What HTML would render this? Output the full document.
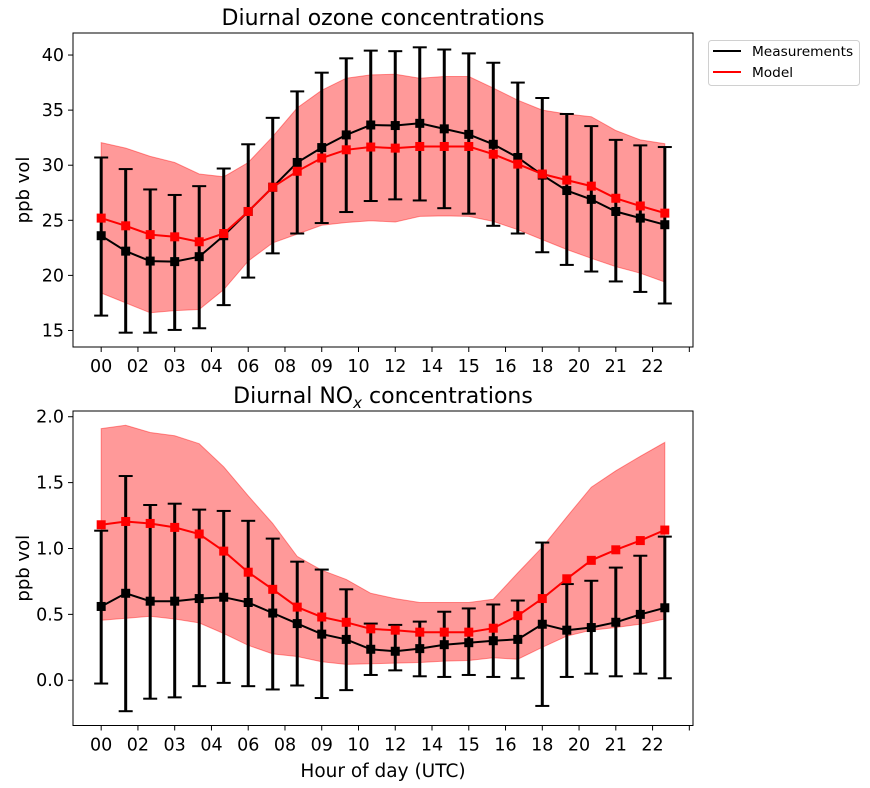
<!DOCTYPE html>
<html><head><meta charset="utf-8">
<style>
html,body{margin:0;padding:0;background:#fff;}
svg{display:block;font-family:"DejaVu Sans","Liberation Sans",sans-serif;}
</style></head>
<body>
<svg id="chart" width="870" height="788" viewBox="0 0 870 788" xmlns="http://www.w3.org/2000/svg"></svg>
<script>
const hours = [0,1,2,3,4,5,6,7,8,9,10,11,12,13,14,15,16,17,18,19,20,21,22,23];
const tickLabels = ["00","02","03","04","06","08","09","10","12","14","15","16","18","20","21","22",""];
// Ozone
const o3Meas = [23.6,22.2,21.3,21.25,21.7,23.6,25.8,28.0,30.25,31.6,32.75,33.65,33.6,33.8,33.3,32.8,31.9,30.7,29.1,27.7,26.9,25.8,25.2,24.6];
const o3MeasHi = [30.7,29.65,27.8,27.3,28.1,29.7,31.9,34.3,36.7,38.4,39.7,40.4,40.35,40.7,40.5,40.15,39.3,37.5,36.1,34.65,33.55,32.3,31.8,31.65];
const o3MeasLo = [16.35,14.8,14.8,15.05,15.2,17.3,19.8,22.0,23.8,24.75,25.75,26.75,26.9,26.8,26.1,25.6,24.5,23.8,22.1,20.95,20.35,19.45,18.5,17.45];
const o3Model = [25.2,24.5,23.7,23.5,23.05,23.8,25.8,28.0,29.45,30.65,31.4,31.65,31.55,31.7,31.7,31.7,31.0,30.1,29.2,28.65,28.1,27.0,26.3,25.65];
const o3ModelHi = [32.05,31.55,30.8,30.25,29.2,28.95,30.25,32.6,35.2,36.8,37.9,38.2,38.25,37.9,38.05,38.05,37.0,35.9,35.0,34.65,34.4,33.15,32.3,31.95];
const o3ModelLo = [18.4,17.5,16.6,16.8,16.9,18.7,21.3,22.95,23.75,24.55,24.8,24.95,24.85,25.35,25.4,25.35,24.9,24.15,23.25,22.35,21.55,20.8,20.2,19.4];
const o3Ticks = [15,20,25,30,35,40];
// NOx
const noxMeas = [0.56,0.66,0.60,0.60,0.62,0.63,0.59,0.51,0.43,0.35,0.31,0.235,0.22,0.24,0.27,0.285,0.30,0.31,0.425,0.38,0.40,0.44,0.50,0.55];
const noxMeasHi = [1.135,1.55,1.33,1.34,1.295,1.285,1.21,1.075,0.90,0.84,0.69,0.43,0.42,0.445,0.52,0.545,0.575,0.605,1.045,0.73,0.755,0.855,0.945,1.09];
const noxMeasLo = [-0.025,-0.235,-0.14,-0.13,-0.045,-0.02,-0.045,-0.07,-0.04,-0.135,-0.075,0.04,0.075,0.03,0.025,0.04,0.025,0.015,-0.195,0.025,0.05,0.03,0.05,0.015];
const noxModel = [1.18,1.205,1.19,1.16,1.11,0.98,0.82,0.69,0.555,0.48,0.44,0.39,0.38,0.365,0.365,0.365,0.395,0.49,0.62,0.77,0.91,0.99,1.06,1.14];
const noxModelHi = [1.91,1.935,1.88,1.855,1.795,1.62,1.40,1.19,0.94,0.835,0.765,0.66,0.62,0.59,0.59,0.59,0.615,0.815,1.01,1.24,1.465,1.59,1.70,1.805];
const noxModelLo = [0.455,0.47,0.485,0.465,0.435,0.355,0.265,0.20,0.18,0.14,0.12,0.125,0.13,0.135,0.145,0.15,0.17,0.16,0.25,0.335,0.38,0.40,0.425,0.465];
const noxTicks = [0.0,0.5,1.0,1.5,2.0];

const NS = "http://www.w3.org/2000/svg";
const svg = document.getElementById('chart');
function mk(tag, attrs, parent){
  const e = document.createElementNS(NS, tag);
  for (const k in attrs) e.setAttribute(k, attrs[k]);
  (parent||svg).appendChild(e);
  return e;
}
const X0 = 73, X1 = 693;
const xmin = -1.15, xmax = 24.15;
function xs(v){ return X0 + (v - xmin) / (xmax - xmin) * (X1 - X0); }

function panel(cfg){
  const {top, bottom, ymin, ymax, meas, measHi, measLo, model, modelHi, modelLo, ticks, fmt, name} = cfg;
  const ys = v => bottom - (v - ymin) / (ymax - ymin) * (bottom - top);
  const g = mk('g', {});
  
  
  let d = '';
  hours.forEach((h,i)=>{ d += (i?'L':'M') + xs(h).toFixed(1) + ' ' + ys(modelHi[i]).toFixed(1); });
  for (let i = hours.length-1; i>=0; i--) d += 'L' + xs(hours[i]).toFixed(1) + ' ' + ys(modelLo[i]).toFixed(1);
  d += 'Z';
  const band = mk('path', {d: d, fill: '#ff0000', 'fill-opacity': 0.4, stroke: '#ff0000', 'stroke-opacity': 0.4, 'stroke-width': 1}, g);
  
  
  hours.forEach((h,i)=>{
    const x = xs(h);
    const eb = mk('g', {stroke: '#000', 'stroke-width': 3}, g);
    
    
    mk('line', {x1: x, x2: x, y1: ys(measHi[i]), y2: ys(measLo[i])}, eb);
    mk('line', {x1: x-7, x2: x+7, y1: ys(measHi[i]), y2: ys(measHi[i]), 'stroke-width': 2}, eb);
    mk('line', {x1: x-7, x2: x+7, y1: ys(measLo[i]), y2: ys(measLo[i]), 'stroke-width': 2}, eb);
  });
  [[meas,'#000','measurements'],[model,'#ff0000','model']].forEach(([arr,col,nm])=>{
    const pts = hours.map((h,i)=> xs(h).toFixed(1)+','+ys(arr[i]).toFixed(1)).join(' ');
    const pl = mk('polyline', {points: pts, fill: 'none', stroke: col, 'stroke-width': 2}, g);
    
    
    hours.forEach((h,i)=>{
      const r = mk('rect', {x: xs(h)-4.5, y: ys(arr[i])-4.5, width: 9, height: 9, fill: col}, g);
      
      
    });
  });
  const fr = mk('rect', {x: X0, y: top, width: X1-X0, height: bottom-top, fill: 'none', stroke: '#000', 'stroke-width': 1}, g);
  
  
  ticks.forEach(t=>{
    const y = ys(t);
    mk('line', {x1: X0-5, x2: X0, y1: y, y2: y, stroke: '#000', 'stroke-width': 1}, g);
    const tx = mk('text', {x: X0-9, y: y+6, 'text-anchor': 'end', 'font-size': 17.5, fill: '#000'}, g);
    tx.textContent = fmt(t);
    
    
  });
  tickLabels.forEach((lab,i)=>{
    const x = xs(i*1.5);
    mk('line', {x1: x, x2: x, y1: bottom, y2: bottom+5, stroke: '#000', 'stroke-width': 1}, g);
    const tx = mk('text', {x: x, y: bottom+25, 'text-anchor': 'middle', 'font-size': 17.5, fill: '#000'}, g);
    tx.textContent = lab;
    
    
  });
  const yl = mk('text', {x: 0, y: 0, transform: 'translate(29,' + ((top+bottom)/2) + ') rotate(-90)', 'text-anchor': 'middle', 'font-size': 18, fill: '#000'}, g);
  yl.textContent = 'ppb vol';
  
  
}

panel({top: 33, bottom: 347, ymin: 13.5, ymax: 42.0, meas: o3Meas, measHi: o3MeasHi, measLo: o3MeasLo, model: o3Model, modelHi: o3ModelHi, modelLo: o3ModelLo, ticks: o3Ticks, fmt: t=>String(t), name: 'ozone'});
panel({top: 411, bottom: 725.5, ymin: -0.3435, ymax: 2.0435, meas: noxMeas, measHi: noxMeasHi, measLo: noxMeasLo, model: noxModel, modelHi: noxModelHi, modelLo: noxModelLo, ticks: noxTicks, fmt: t=>t.toFixed(1), name: 'nox'});
</script>
<svg style="position:absolute;left:0;top:0" width="870" height="788">
  <text x="383" y="25" text-anchor="middle" font-size="22" fill="#000" font-family="DejaVu Sans, Liberation Sans, sans-serif">Diurnal ozone concentrations</text>
  <text x="383" y="403" text-anchor="middle" font-size="22" fill="#000" font-family="DejaVu Sans, Liberation Sans, sans-serif">Diurnal NO<tspan font-style="italic" font-size="15" dy="5">x</tspan><tspan dy="-5"> concentrations</tspan></text>
  <text x="383" y="777" text-anchor="middle" font-size="18.5" fill="#000" font-family="DejaVu Sans, Liberation Sans, sans-serif">Hour of day (UTC)</text>
  <g font-family="DejaVu Sans, Liberation Sans, sans-serif">
    <rect x="708.5" y="40.5" width="151" height="45" rx="3" fill="#fff" stroke="#d0d0d0"/>
    <line x1="713" x2="741" y1="51" y2="51" stroke="#000" stroke-width="2"/>
    <text x="752" y="56" font-size="13.7" fill="#000">Measurements</text>
    <line x1="713" x2="741" y1="72" y2="72" stroke="#ff0000" stroke-width="2"/>
    <text x="752" y="77" font-size="13.7" fill="#000">Model</text>
  </g>
</svg>
</body></html>
